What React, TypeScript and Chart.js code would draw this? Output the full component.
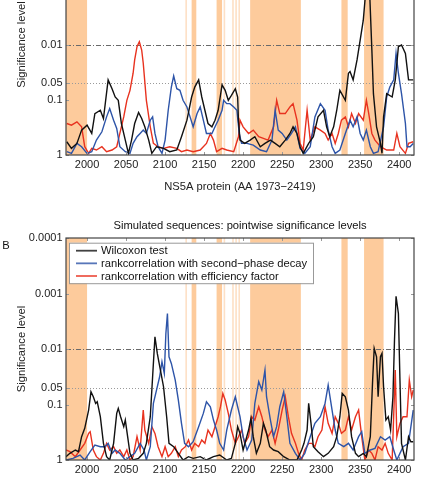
import React, { useEffect, useRef } from "react";
import { Chart, registerables } from "chart.js";

Chart.register(...registerables);

const FONT = "'Liberation Sans', Arial, Helvetica, sans-serif";

// ---------- axes ----------
const xMin = 1973;
const xMax = 2419;
const xTickValues = [2000, 2050, 2100, 2150, 2200, 2250, 2300, 2350, 2400];
const yTickValues = [1, 0.1, 0.05, 0.01, 0.001, 0.0001];
const yTickLabels = ["1", "0.1", "0.05", "0.01", "0.001", "0.0001"];
const refLevels = [0.01, 0.05];

// ---------- series ----------
const seriesNames = [
  "Wilcoxon test",
  "rankcorrelation with second\u2212phase decay",
  "rankcorrelation with efficiency factor",
];
const seriesColors = ["#111111", "#2d54a8", "#e8321f"];

// shaded regions (AA ranges) and thin marks (AA positions)
const shadedRegions: [number, number][] = [
  [1973, 2000],
  [2134, 2140],
  [2166, 2173],
  [2209, 2274],
  [2326, 2334],
  [2355, 2380],
];
const thinMarks = [2127, 2176, 2187, 2191, 2195];

// values: [AA position, -log10(p)]
const topWilcoxon: [number, number][] = [
  [1974, 0.24], [1980, 0.12], [1987, 0.21], [1993, 0.45], [2000, 0.54], [2006, 0.39], [2010, 0.75], [2017, 0.81],
  [2021, 0.66], [2027, 1.36], [2032, 1.2], [2036, 1.05], [2040, 0.99], [2044, 0.57], [2049, 0.27], [2053, 0.03],
  [2057, 0.27], [2061, 0.57], [2066, 0.77], [2070, 0.66], [2074, 0.51], [2079, 0.27], [2083, 0.03], [2089, 0.15],
  [2098, 0.12], [2106, 0.06], [2115, 0.09], [2121, 0.33], [2128, 0.63], [2134, 1.05], [2138, 1.23], [2143, 1.36],
  [2147, 1.05], [2151, 0.81], [2155, 0.57], [2160, 0.51], [2164, 0.63], [2168, 0.81], [2173, 1.27], [2177, 1.17],
  [2181, 0.99], [2185, 1.08], [2190, 1.2], [2193, 1.05], [2194, 0.63], [2196, 0.27], [2202, 0.21], [2209, 0.27],
  [2215, 0.33], [2222, 0.15], [2228, 0.21], [2235, 0.27], [2241, 0.21], [2247, 0.15], [2254, 0.27], [2260, 0.39],
  [2264, 0.51], [2269, 0.39], [2273, 0.15], [2277, 0.03], [2284, 0.21], [2290, 0.33], [2296, 0.69], [2303, 0.81],
  [2307, 0.51], [2311, 0.33], [2316, 0.51], [2320, 0.81], [2324, 1.17], [2331, 0.99], [2335, 1.48], [2337, 1.51],
  [2341, 1.36], [2346, 1.72], [2350, 2.08], [2354, 2.44], [2358, 3.1], [2362, 3.0], [2365, 1.9], [2367, 1.11],
  [2371, 0.51], [2376, 0.21], [2378, 0.03], [2380, 0.69], [2384, 1.11], [2391, 1.05], [2395, 1.36], [2399, 1.96],
  [2403, 1.99], [2408, 1.84], [2412, 1.36], [2415, 1.36], [2418, 1.36],
];
const topSecondPhase: [number, number][] = [
  [1974, 0.06], [1980, 0.03], [1987, 0.21], [1993, 0.15], [2000, 0.03], [2006, 0.06], [2012, 0.27], [2019, 0.42],
  [2025, 0.69], [2029, 0.84], [2034, 0.63], [2038, 0.48], [2042, 0.15], [2049, 0.06], [2055, 0.03], [2059, 0.21],
  [2064, 0.33], [2068, 0.39], [2072, 0.45], [2076, 0.39], [2081, 0.63], [2084, 0.69], [2087, 0.39], [2091, 0.15],
  [2096, 0.03], [2100, 0.27], [2104, 0.81], [2108, 1.23], [2111, 1.43], [2115, 1.2], [2119, 1.17], [2123, 0.99],
  [2128, 0.87], [2132, 0.69], [2136, 0.51], [2141, 0.75], [2145, 0.87], [2149, 0.63], [2153, 0.39], [2160, 0.39],
  [2164, 0.51], [2168, 0.63], [2173, 0.81], [2175, 0.99], [2179, 0.93], [2183, 0.93], [2188, 0.87], [2192, 0.81],
  [2195, 0.39], [2198, 0.21], [2205, 0.21], [2213, 0.18], [2222, 0.09], [2230, 0.06], [2237, 0.27], [2241, 0.81],
  [2245, 0.45], [2250, 0.39], [2256, 0.27], [2262, 0.39], [2267, 0.51], [2273, 0.12], [2279, 0.03], [2286, 0.15],
  [2292, 0.69], [2299, 0.93], [2305, 0.81], [2309, 0.45], [2314, 0.15], [2318, 0.03], [2324, 0.09], [2331, 0.39],
  [2337, 0.63], [2341, 0.51], [2346, 0.69], [2350, 0.39], [2354, 0.27], [2358, 0.45], [2363, 0.15], [2367, 0.03],
  [2373, 0.06], [2380, 0.51], [2384, 1.05], [2388, 1.23], [2393, 1.36], [2396, 1.84], [2399, 1.48], [2403, 1.11],
  [2408, 0.57], [2410, 0.15], [2414, 0.15], [2418, 0.21],
];
const topEfficiency: [number, number][] = [
  [1974, 0.57], [1980, 0.54], [1987, 0.6], [1993, 0.51], [1997, 0.15], [2002, 0.03], [2006, 0.12], [2012, 0.09],
  [2019, 0.15], [2025, 0.06], [2032, 0.09], [2038, 0.15], [2042, 0.39], [2047, 0.69], [2051, 0.99], [2055, 1.17],
  [2059, 1.48], [2061, 1.72], [2064, 1.96], [2067, 2.05], [2070, 1.9], [2072, 1.66], [2076, 0.99], [2081, 0.51],
  [2085, 0.21], [2091, 0.15], [2098, 0.12], [2106, 0.15], [2115, 0.12], [2121, 0.06], [2128, 0.09], [2136, 0.06],
  [2145, 0.09], [2153, 0.21], [2158, 0.39], [2162, 0.27], [2166, 0.06], [2173, 0.12], [2179, 0.09], [2188, 0.06],
  [2194, 0.33], [2196, 0.63], [2200, 0.51], [2207, 0.39], [2213, 0.45], [2220, 0.33], [2226, 0.3], [2232, 0.27],
  [2239, 0.51], [2243, 0.99], [2247, 0.75], [2254, 0.75], [2260, 0.87], [2264, 0.93], [2269, 0.63], [2273, 0.21],
  [2277, 0.09], [2282, 0.81], [2286, 0.27], [2292, 0.51], [2299, 0.45], [2305, 0.39], [2309, 0.27], [2314, 0.39],
  [2318, 0.21], [2322, 0.39], [2326, 0.63], [2331, 0.69], [2335, 0.51], [2339, 0.75], [2344, 0.57], [2348, 0.75],
  [2354, 0.63], [2358, 0.99], [2361, 0.75], [2365, 0.39], [2369, 0.27], [2376, 0.15], [2384, 0.09], [2393, 0.09],
  [2397, 0.39], [2401, 0.15], [2408, 0.03], [2412, 0.21], [2418, 0.24],
];

const simWilcoxon: [number, number][] = [
  [1973, 0.06], [1978, 0.12], [1985, 0.18], [1989, 0.15], [1993, 0.42], [1997, 0.57], [2002, 0.9], [2005, 1.23],
  [2008, 1.14], [2011, 1.02], [2013, 1.05], [2017, 0.78], [2021, 0.3], [2025, 0.06], [2029, 0], [2034, 0.3],
  [2038, 0.84], [2040, 0.93], [2043, 0.78], [2047, 0.6], [2049, 0.72], [2052, 0.42], [2055, 0.12], [2059, 0],
  [2066, 0.03], [2072, 0.12], [2076, 0.3], [2081, 0.78], [2084, 1.5], [2087, 2.22], [2090, 1.92], [2094, 1.62],
  [2098, 1.32], [2102, 0.78], [2105, 0.3], [2111, 0.24], [2117, 0.12], [2123, 0], [2130, 0.06], [2136, 0.03],
  [2145, 0.06], [2153, 0], [2162, 0.06], [2170, 0.09], [2179, 0], [2185, 0.03], [2190, 0.3], [2193, 0.6],
  [2196, 0.48], [2200, 0.18], [2207, 0.54], [2210, 0.75], [2213, 0.42], [2217, 0.12], [2222, 0.3], [2226, 0.66],
  [2229, 0.54], [2234, 0.24], [2239, 0.18], [2245, 0.15], [2252, 0.06], [2260, 0], [2269, 0], [2275, 0.18],
  [2278, 0.3], [2282, 0.54], [2284, 1.02], [2287, 0.66], [2290, 0.24], [2296, 0.15], [2303, 0.06], [2309, 0.12],
  [2316, 0.24], [2320, 0.42], [2324, 0.78], [2327, 1.2], [2331, 1.14], [2335, 0.9], [2339, 0.42], [2344, 0.12],
  [2348, 0.06], [2354, 0.12], [2358, 0.06], [2363, 0.42], [2366, 1.44], [2368, 2.01], [2371, 1.86], [2373, 1.14],
  [2376, 1.86], [2378, 1.92], [2380, 1.32], [2383, 0.72], [2386, 0.78], [2389, 0.54], [2392, 1.14], [2394, 2.16],
  [2396, 2.95], [2399, 2.64], [2401, 1.44], [2403, 0.3], [2408, 0], [2412, 0.42], [2415, 0.33], [2418, 0.33],
];
const simSecondPhase: [number, number][] = [
  [1973, 0], [1982, 0.03], [1991, 0.09], [1997, 0], [2004, 0.15], [2010, 0.27], [2017, 0.24], [2023, 0.24],
  [2027, 0.3], [2032, 0.12], [2036, 0.18], [2042, 0.12], [2049, 0], [2055, 0.06], [2061, 0.12], [2068, 0.3],
  [2073, 0.18], [2076, 0], [2081, 0.24], [2085, 1.02], [2089, 1.26], [2093, 1.5], [2096, 1.77], [2099, 1.56],
  [2101, 2.28], [2103, 2.64], [2105, 1.86], [2108, 1.74], [2113, 1.44], [2117, 1.08], [2121, 0.66], [2125, 0.3],
  [2130, 0.24], [2136, 0.33], [2143, 0.6], [2149, 0.84], [2153, 1.05], [2158, 0.96], [2162, 0.72], [2166, 0.54],
  [2170, 0.3], [2175, 0.18], [2179, 0.54], [2185, 0.9], [2190, 1.14], [2193, 0.96], [2196, 0.78], [2200, 0.42],
  [2205, 0.18], [2211, 0.36], [2215, 1.02], [2220, 1.41], [2224, 1.26], [2228, 1.62], [2230, 1.14], [2235, 0.72],
  [2239, 0.42], [2243, 0.6], [2247, 0.96], [2252, 1.23], [2256, 0.78], [2260, 0.3], [2267, 0.12], [2273, 0],
  [2279, 0.12], [2286, 0.42], [2292, 0.66], [2299, 0.78], [2305, 1.02], [2309, 1.35], [2314, 0.9], [2318, 0.54],
  [2322, 0.3], [2329, 0.24], [2335, 0.3], [2341, 0.18], [2348, 0.42], [2352, 0.51], [2356, 0.12], [2363, 0.18],
  [2369, 0.21], [2376, 0.42], [2382, 0.36], [2388, 0.42], [2393, 0.18], [2397, 0], [2401, 0.12], [2405, 0.24],
  [2412, 0.3], [2418, 0.9],
];
const simEfficiency: [number, number][] = [
  [1973, 0.18], [1978, 0.15], [1985, 0.06], [1991, 0.18], [1997, 0.3], [2002, 0.48], [2004, 0.51], [2008, 0.18],
  [2012, 0.06], [2017, 0], [2021, 0.12], [2025, 0.3], [2029, 0.18], [2034, 0.24], [2038, 0.12], [2042, 0.18],
  [2047, 0.06], [2051, 0.18], [2055, 0], [2059, 0.06], [2064, 0.42], [2068, 0.18], [2072, 0.9], [2074, 0.54],
  [2079, 0.3], [2083, 0.6], [2087, 0.48], [2091, 0.24], [2096, 0.06], [2100, 0.24], [2104, 0.06], [2108, 0.12],
  [2113, 0.24], [2117, 0.06], [2121, 0.18], [2126, 0.24], [2130, 0.36], [2134, 0.18], [2138, 0.3], [2143, 0.24],
  [2147, 0.36], [2151, 0.3], [2155, 0.54], [2160, 0.42], [2164, 0.6], [2168, 0.78], [2171, 0.96], [2174, 1.2],
  [2177, 1.08], [2181, 0.84], [2185, 0.54], [2190, 0.3], [2194, 0.42], [2198, 0.54], [2202, 0.3], [2207, 0.42],
  [2211, 0.78], [2215, 0.72], [2220, 0.96], [2224, 0.78], [2228, 0.54], [2232, 0.42], [2237, 0.54], [2241, 0.3],
  [2245, 0.54], [2250, 0.9], [2254, 1.14], [2258, 0.78], [2262, 0.48], [2267, 0.3], [2271, 0.12], [2275, 0],
  [2279, 0.18], [2284, 0.3], [2288, 0.3], [2292, 0.24], [2296, 0.42], [2301, 0.54], [2305, 0.96], [2309, 0.66],
  [2314, 0.48], [2318, 0.78], [2322, 0.66], [2326, 0.48], [2331, 0.54], [2335, 0.78], [2339, 0.54], [2344, 0.78],
  [2348, 0.9], [2352, 0.42], [2356, 0], [2361, 0.18], [2365, 0.12], [2369, 0], [2373, 0.24], [2378, 0.18],
  [2382, 0.3], [2386, 0.12], [2391, 0], [2395, 1.62], [2397, 0.42], [2401, 0.66], [2405, 0.78], [2410, 0.78],
  [2413, 1.44], [2416, 1.14], [2418, 1.26],
];

function toPoints(s: [number, number][]) {
  return s.map(([aa, sig]) => ({ x: aa, y: Math.pow(10, -sig) }));
}

const decor = {
  id: "decor",
  beforeDatasetsDraw(chart: any, _args: any, opts: any) {
    const { ctx, chartArea: a, scales } = chart;
    const x = scales.x;
    const y = scales.y;
    ctx.save();
    ctx.beginPath();
    ctx.rect(a.left, a.top, a.right - a.left, a.bottom - a.top);
    ctx.clip();
    ctx.fillStyle = "#fdcb9c";
    for (const [s, e] of shadedRegions) {
      const x0 = x.getPixelForValue(s);
      const x1 = x.getPixelForValue(e);
      ctx.fillRect(x0, a.top, x1 - x0, a.bottom - a.top);
    }
    ctx.fillStyle = "#fde0c6";
    for (const v of thinMarks) {
      const px = x.getPixelForValue(v);
      ctx.fillRect(px - 0.8, a.top, 1.6, a.bottom - a.top);
    }
    ctx.lineWidth = 1;
    const dashes = [[5, 2, 1, 2], [1, 2]];
    const colors = ["#6a6a6a", "#9a9a9a"];
    refLevels.forEach((lv, i) => {
      const py = Math.round(y.getPixelForValue(lv)) + 0.5;
      ctx.strokeStyle = colors[i];
      ctx.setLineDash(dashes[i]);
      ctx.beginPath();
      ctx.moveTo(a.left, py);
      ctx.lineTo(a.right, py);
      ctx.stroke();
    });
    ctx.restore();
  },
  afterDatasetsDraw(chart: any, _args: any, opts: any) {
    const { ctx, chartArea: a, scales } = chart;
    const x = scales.x;
    const y = scales.y;
    ctx.save();
    // tick marks (inward)
    ctx.strokeStyle = "#999";
    ctx.lineWidth = 1;
    ctx.beginPath();
    for (const v of xTickValues) {
      const px = Math.round(x.getPixelForValue(v)) + 0.5;
      ctx.moveTo(px, a.top);
      ctx.lineTo(px, a.top + 3);
      ctx.moveTo(px, a.bottom);
      ctx.lineTo(px, a.bottom - 3);
    }
    for (const v of yTickValues) {
      const py = Math.round(y.getPixelForValue(v)) + 0.5;
      ctx.moveTo(a.left, py);
      ctx.lineTo(a.left + 3, py);
      ctx.moveTo(a.right, py);
      ctx.lineTo(a.right - 3, py);
    }
    ctx.stroke();
    // frame
    ctx.strokeStyle = "#444";
    ctx.lineWidth = 1.2;
    ctx.strokeRect(a.left, a.top, a.right - a.left, a.bottom - a.top);

    ctx.fillStyle = "#111";
    ctx.textBaseline = "middle";
    if (opts.title) {
      ctx.font = `11.2px ${FONT}`;
      ctx.textAlign = "center";
      ctx.fillText(opts.title, (a.left + a.right) / 2, a.top - 12);
    }
    if (opts.panelLabel) {
      ctx.font = `11.2px ${FONT}`;
      ctx.textAlign = "center";
      ctx.fillText(opts.panelLabel, 6, a.top + 7.5);
    }
    if (opts.legend) {
      const bx = a.left + 3;
      const by = a.top + 4.7;
      ctx.fillStyle = "#fff";
      ctx.fillRect(bx, by, 244, 40.5);
      ctx.strokeStyle = "#999";
      ctx.lineWidth = 1;
      ctx.strokeRect(bx + 0.5, by + 0.5, 244, 40.5);
      ctx.font = `11.2px ${FONT}`;
      ctx.textAlign = "left";
      seriesNames.forEach((name, i) => {
        const ry = a.top + 12.7 + i * 12.65;
        ctx.strokeStyle = seriesColors[i];
        ctx.globalAlpha = 0.8;
        ctx.lineWidth = 1.8;
        ctx.beginPath();
        ctx.moveTo(a.left + 10, ry);
        ctx.lineTo(a.left + 31, ry);
        ctx.stroke();
        ctx.globalAlpha = 1;
        ctx.fillStyle = "#111";
        ctx.fillText(name, a.left + 35, ry + 0.5);
      });
    }
    ctx.restore();
  },
};

function buildPanel(canvas: HTMLCanvasElement, series: [number, number][][], cfg: any) {
  return new Chart(canvas, {
    type: "line",
    data: {
      datasets: series.map((s, i) => ({
        label: seriesNames[i],
        data: toPoints(s),
        borderColor: seriesColors[i],
        backgroundColor: seriesColors[i],
        borderWidth: 1.4,
        pointRadius: 0,
        fill: false,
        tension: 0,
      })),
    },
    options: {
      responsive: false,
      animation: false,
      devicePixelRatio: 1,
      layout: { padding: { left: 0, right: 7, top: cfg.padTop, bottom: 0 } },
      plugins: {
        legend: { display: false },
        tooltip: { enabled: false },
        decor: cfg.decor,
      } as any,
      scales: {
        x: {
          type: "linear",
          min: xMin,
          max: xMax,
          grid: { display: false, drawTicks: false },
          border: { display: false },
          afterBuildTicks: (s: any) => {
            s.ticks = xTickValues.map((v) => ({ value: v }));
          },
          afterFit: (s: any) => {
            s.height = cfg.xHeight;
          },
          ticks: {
            autoSkip: false,
            maxRotation: 0,
            minRotation: 0,
            padding: 3.5,
            color: "#222",
            font: { family: FONT, size: 11 },
            callback: (v: any) => String(v),
          },
          title: cfg.xTitle
            ? {
                display: true,
                text: cfg.xTitle,
                color: "#222",
                font: { family: FONT, size: 11.2 },
                padding: { top: 0, bottom: cfg.xTitlePad },
              }
            : { display: false },
        },
        y: {
          type: "logarithmic",
          reverse: true,
          min: 0.0001,
          max: 1,
          grid: { display: false, drawTicks: false },
          border: { display: false },
          afterBuildTicks: (s: any) => {
            s.ticks = yTickValues.map((v) => ({ value: v }));
          },
          afterFit: (s: any) => {
            s.width = 66;
          },
          ticks: {
            autoSkip: false,
            padding: 3.5,
            color: "#222",
            font: { family: FONT, size: 11 },
            callback: (v: any) => {
              const i = yTickValues.findIndex((t) => Math.abs(t - v) / t < 1e-6);
              return i >= 0 ? yTickLabels[i] : "";
            },
          },
          title: {
            display: true,
            text: "Significance level",
            color: "#222",
            font: { family: FONT, size: 11.2 },
            padding: { top: 14.8, bottom: 0 },
          },
        },
      } as any,
    },
    plugins: [decor as any],
  });
}

export default function App() {
  const topRef = useRef<HTMLCanvasElement>(null);
  const botRef = useRef<HTMLCanvasElement>(null);

  useEffect(() => {
    const c1 = buildPanel(topRef.current!, [topWilcoxon, topSecondPhase, topEfficiency], {
      padTop: 14,
      xHeight: 55,
      xTitle: "NS5A protein (AA 1973\u22122419)",
      xTitlePad: 16.8,
      decor: {},
    });
    const c2 = buildPanel(botRef.current!, [simWilcoxon, simSecondPhase, simEfficiency], {
      padTop: 38,
      xHeight: 23,
      xTitle: null,
      xTitlePad: 0,
      decor: {
        title: "Simulated sequences: pointwise significance levels",
        panelLabel: "B",
        legend: true,
      },
    });
    return () => {
      c1.destroy();
      c2.destroy();
    };
  }, []);

  return (
    <div
      style={{
        position: "fixed",
        left: 0,
        top: 0,
        width: 421,
        height: 483,
        overflow: "hidden",
        background: "#fff",
      }}
    >
      <canvas
        ref={topRef}
        width={421}
        height={290}
        style={{ position: "absolute", left: 0, top: -80, width: 421, height: 290 }}
      />
      <canvas
        ref={botRef}
        width={421}
        height={283}
        style={{ position: "absolute", left: 0, top: 200, width: 421, height: 283 }}
      />
    </div>
  );
}
